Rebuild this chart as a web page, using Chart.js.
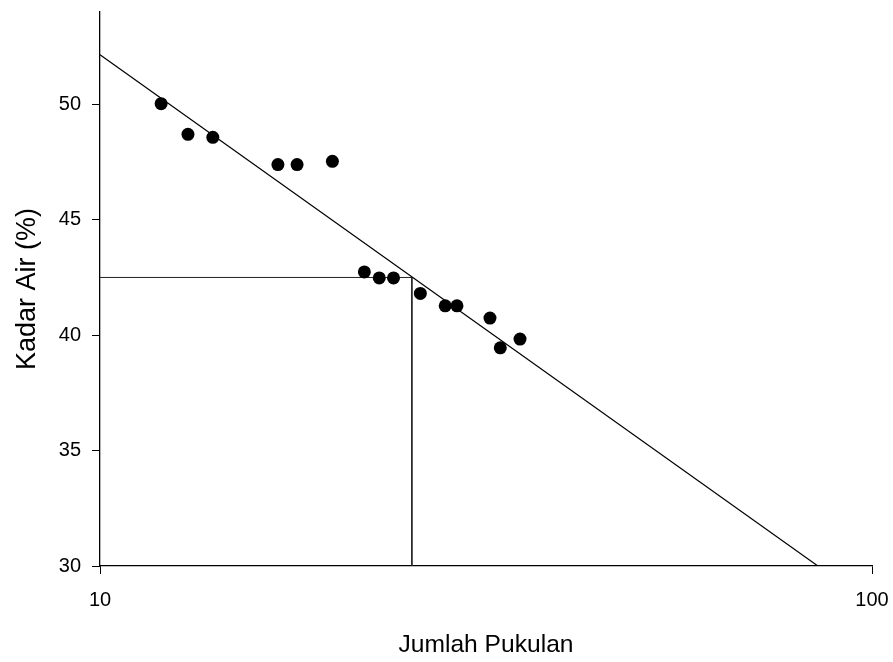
<!DOCTYPE html>
<html>
<head>
<meta charset="utf-8">
<script src="https://cdn.jsdelivr.net/npm/chart.js@4/dist/chart.umd.min.js"></script>
<style>
  html, body { margin: 0; padding: 0; background: #ffffff; }
  #wrap { width: 893px; height: 662px; }
</style>
</head>
<body>
<div id="wrap"><canvas id="c" width="893" height="662"></canvas></div>
<script>
// Measured data: number of blows (Jumlah Pukulan) vs moisture content (Kadar Air %)
const blows = [12, 13, 14, 17, 18, 20, 22, 23, 24, 26, 28, 29, 32, 33, 35];
const moisture = [50.03, 48.70, 48.57, 47.39, 47.39, 47.53, 42.74, 42.48, 42.48, 41.81, 41.27, 41.27, 40.74, 39.45, 39.83];

// Fitted flow line (end points)
const fitX = [10, 85.1];
const fitY = [52.15, 30];

// 25-blow reading lines (as drawn in the reference)
const refX = [10, 25.35, 25.35];
const refY = [42.5, 42.5, 30];

// Axis ticks
const xTicks = [10, 100];
const yTicks = [30, 35, 40, 45, 50];

const xTitle = 'Jumlah Pukulan';
const yTitle = 'Kadar Air (%)';

const toPts = (xs, ys) => xs.map((x, i) => ({ x: x, y: ys[i] }));

const FONT = "'Liberation Sans', Arial, sans-serif";

function zeroPad(s) {
  s.paddingTop = 0; s.paddingBottom = 0; s.paddingLeft = 0; s.paddingRight = 0;
}

new Chart(document.getElementById('c'), {
  type: 'scatter',
  data: {
    datasets: [
      {
        label: 'Data',
        data: toPts(blows, moisture),
        pointRadius: 6.5,
        pointHoverRadius: 6.5,
        pointBackgroundColor: '#000000',
        pointBorderColor: '#000000',
        pointBorderWidth: 0,
        showLine: false,
        order: 0
      },
      {
        label: 'Fit',
        data: toPts(fitX, fitY),
        showLine: true,
        borderColor: '#000000',
        borderWidth: 1.2,
        pointRadius: 0,
        fill: false,
        order: 1
      },
      {
        label: 'Ref',
        data: toPts(refX, refY),
        showLine: true,
        borderColor: '#222222',
        borderWidth: 1,
        pointRadius: 0,
        fill: false,
        order: 2
      }
    ]
  },
  options: {
    responsive: false,
    animation: false,
    devicePixelRatio: 1,
    layout: { padding: { top: 12, right: 21, bottom: 0, left: 0 } },
    plugins: {
      legend: { display: false },
      tooltip: { enabled: false },
      title: { display: false }
    },
    scales: {
      x: {
        type: 'logarithmic',
        min: 10,
        max: 100,
        afterBuildTicks: (s) => { s.ticks = xTicks.map(v => ({ value: v })); },
        afterFit: (s) => { s.height = 96; zeroPad(s); },
        grid: {
          drawOnChartArea: false,
          drawTicks: true,
          tickLength: 8,
          color: '#000000',
          lineWidth: 1
        },
        border: { display: true, color: '#000000', width: 1.3 },
        ticks: {
          color: '#000000',
          font: { family: FONT, size: 20 },
          padding: 14,
          maxRotation: 0,
          autoSkip: false,
          callback: (v) => String(v)
        },
        title: {
          display: true,
          text: xTitle,
          color: '#000000',
          font: { family: FONT, size: 24.6 },
          padding: { top: 0, bottom: 2 }
        }
      },
      y: {
        type: 'linear',
        min: 30,
        max: 54,
        afterBuildTicks: (s) => { s.ticks = yTicks.map(v => ({ value: v })); },
        afterFit: (s) => { s.width = 100; zeroPad(s); },
        grid: {
          drawOnChartArea: false,
          drawTicks: true,
          tickLength: 8,
          color: '#000000',
          lineWidth: 1
        },
        border: { display: true, color: '#000000', width: 1.3 },
        ticks: {
          color: '#000000',
          font: { family: FONT, size: 20 },
          padding: 11,
          autoSkip: false,
          callback: (v) => String(v)
        },
        title: {
          display: true,
          text: yTitle,
          color: '#000000',
          font: { family: FONT, size: 27 },
          padding: { top: 11, bottom: 0 }
        }
      }
    }
  }
});
</script>
</body>
</html>
